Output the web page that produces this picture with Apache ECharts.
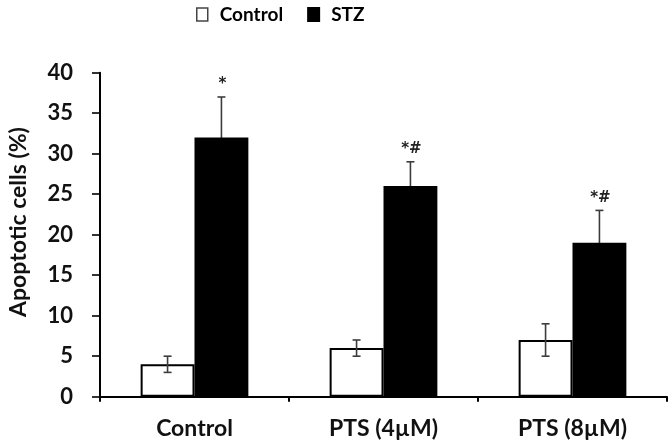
<!DOCTYPE html>
<html><head><meta charset="utf-8">
<script src="https://cdn.jsdelivr.net/npm/echarts@6/dist/echarts.min.js"></script>
<style>html,body{margin:0;padding:0;background:#fff}#c{width:670px;height:446px}</style>
</head><body><div id="c"></div>
<script>
const categories = ['Control', 'PTS (4µM)', 'PTS (8µM)'];
const controlValues = [4, 6, 7];
const controlErrors = [1, 1, 2];
const stzValues = [32, 26, 19];
const stzErrors = [5, 3, 4];
const stzMarks = ['*', '*#', '*#'];
const yTicks = [0, 5, 10, 15, 20, 25, 30, 35, 40];
const yTitle = 'Apoptotic cells (%)';

const FONT = 'Lato';
const GAP = 0.43;

function errRender(side, values, errors, marks) {
  return function (params, api) {
    const i = api.value(0);
    const v = values[i], e = errors[i];
    const band = api.size([1, 0])[0];
    const bw = band * (1 - GAP) / 2;
    const c = api.coord([i, v]);
    const x = c[0] + side * bw / 2;
    const top = api.coord([i, v + e])[1];
    const bot = api.coord([i, v - e])[1];
    const cap = 4;
    const st = { stroke: '#3c3c3c', lineWidth: 1.6 };
    const children = [
      { type: 'line', shape: { x1: x, y1: top, x2: x, y2: bot }, style: st },
      { type: 'line', shape: { x1: x - cap, y1: top, x2: x + cap, y2: top }, style: st },
      { type: 'line', shape: { x1: x - cap, y1: bot, x2: x + cap, y2: bot }, style: st }
    ];
    if (marks) {
      children.push({ type: 'text', x: x + 1, y: top - 5,
        style: { text: marks[i], fill: '#222', font: 'bold 15px "DejaVu Sans"', align: 'center', verticalAlign: 'bottom' } });
    }
    return { type: 'group', children: children };
  };
}

const chart = echarts.init(document.getElementById('c'), null, { renderer: 'canvas' });
chart.setOption({
  animation: false,
  textStyle: { fontFamily: FONT },
  legend: {
    top: 0, left: 191,
    itemWidth: 11, itemHeight: 13, itemGap: 24,
    textStyle: { fontFamily: FONT, fontWeight: 'bold', fontSize: 19, color: '#000', padding: [0, 0, 0, 7] },
    data: [
      { name: 'Control', icon: 'rect', itemStyle: { color: '#fff', borderColor: '#444', borderWidth: 1.5 } },
      { name: 'STZ', icon: 'rect', itemStyle: { color: '#000' } }
    ]
  },
  graphic: [{
    type: 'text', x: 19, y: 222, rotation: Math.PI / 2,
    style: { text: yTitle, font: 'bold 23px ' + FONT, fill: '#111', align: 'center', verticalAlign: 'middle' }
  }],
  grid: { left: 100, right: 3, top: 72.7, bottom: 49.3, containLabel: false },
  xAxis: {
    type: 'category', data: categories,
    axisLine: { lineStyle: { color: '#000', width: 2 } },
    axisTick: { show: true, alignWithLabel: false, length: 5, lineStyle: { color: '#000', width: 2 } },
    axisLabel: { fontFamily: FONT, fontWeight: 'bold', fontSize: 23, color: '#111', margin: 20 }
  },
  yAxis: {
    type: 'value', min: 0, max: 40, interval: 5,
    axisLine: { show: true, lineStyle: { color: '#000', width: 2 } },
    axisTick: { show: true, length: 8, lineStyle: { color: '#000', width: 1.6 } },
    axisLabel: { fontFamily: FONT, fontWeight: 'bold', fontSize: 22, color: '#111', margin: 27,
      formatter: v => yTicks.includes(v) ? String(v) : '' },
    splitLine: { show: false }
  },
  series: [
    { name: 'Control', type: 'bar', data: controlValues, barGap: '0%', barCategoryGap: (GAP * 100) + '%',
      itemStyle: { color: '#fff', borderColor: '#000', borderWidth: 2 }, z: 2 },
    { name: 'STZ', type: 'bar', data: stzValues,
      itemStyle: { color: '#000', borderColor: '#000', borderWidth: 2 }, z: 2 },
    { name: 'errC', type: 'custom', data: categories.map((c, i) => [i]), renderItem: errRender(-1, controlValues, controlErrors, null), z: 5, silent: true },
    { name: 'errS', type: 'custom', data: categories.map((c, i) => [i]), renderItem: errRender(1, stzValues, stzErrors, stzMarks), z: 1, silent: true }
  ]
});
</script></body></html>
